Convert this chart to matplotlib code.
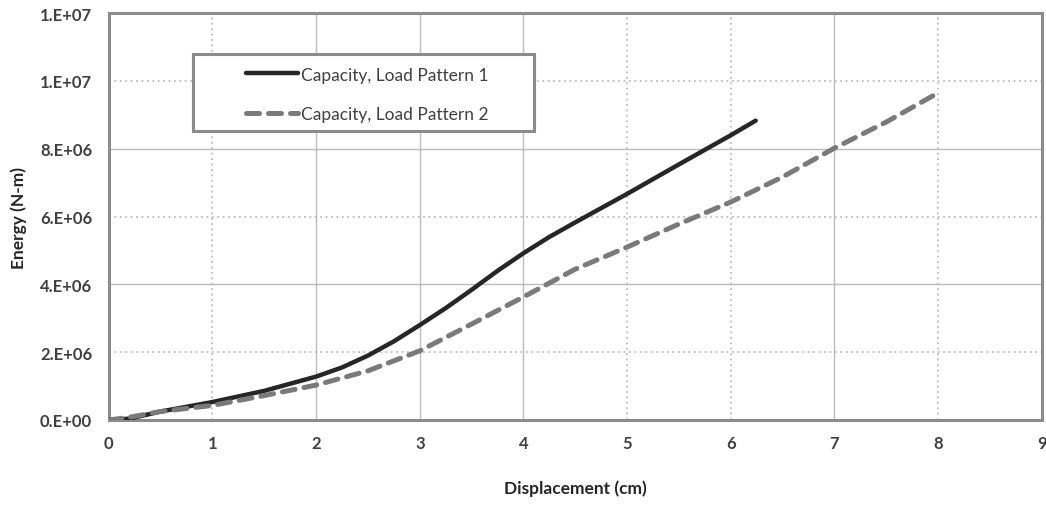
import matplotlib
matplotlib.use("Agg")
import matplotlib.pyplot as plt
from matplotlib.patches import Rectangle

plt.rcParams['font.family'] = ['Lato', 'DejaVu Sans']

# Capacity curves: displacement (cm) vs. absorbed energy (N-m)
disp_lp1 = [0.0, 0.2, 0.5, 1.0, 1.5, 2.0, 2.25, 2.5, 2.75, 3.0, 3.25, 3.5, 3.75,
            4.0, 4.25, 4.5, 5.0, 5.5, 6.0, 6.24]
energy_lp1 = [0.0, 0.04e6, 0.25e6, 0.53e6, 0.86e6, 1.28e6, 1.55e6, 1.90e6, 2.32e6,
              2.80e6, 3.30e6, 3.84e6, 4.40e6, 4.92e6, 5.40e6, 5.83e6, 6.67e6,
              7.54e6, 8.40e6, 8.83e6]

disp_lp2 = [0.0, 0.2, 0.5, 1.0, 1.5, 2.0, 2.5, 3.0, 3.5, 4.0, 4.5, 5.0, 5.5, 6.0,
            6.5, 7.0, 7.5, 8.0]
energy_lp2 = [0.0, 0.08e6, 0.25e6, 0.43e6, 0.72e6, 1.03e6, 1.45e6, 2.04e6, 2.83e6,
              3.63e6, 4.45e6, 5.10e6, 5.78e6, 6.43e6, 7.17e6, 8.02e6, 8.79e6, 9.65e6]

series_labels = ["Capacity, Load Pattern 1", "Capacity, Load Pattern 2"]

x_ticks = [0, 1, 2, 3, 4, 5, 6, 7, 8, 9]
y_ticks = [0, 2e6, 4e6, 6e6, 8e6, 1e7, 1.2e7]
y_tick_labels = ["0.E+00", "2.E+06", "4.E+06", "6.E+06", "8.E+06", "1.E+07", "1.E+07"]

# gridlines drawn solid vs dotted
x_solid = [2, 3, 4, 7]
x_dotted = [1, 5, 6, 8]
y_solid = [4e6, 8e6]
y_dotted = [2e6, 6e6, 1e7]

fig = plt.figure(figsize=(10.46, 5.06), dpi=100)
ax = fig.add_axes([0.104, 0.168, 0.892, 0.804])

grid_c = "#bcbcbc"
for xv in x_solid:
    ax.axvline(xv, color=grid_c, lw=1.0, ls='-', zorder=1)
for xv in x_dotted:
    ax.axvline(xv, color=grid_c, lw=1.3, ls=(0, (1, 2)), zorder=1)
for yv in y_solid:
    ax.axhline(yv, color=grid_c, lw=1.0, ls='-', zorder=1)
for yv in y_dotted:
    ax.axhline(yv, color=grid_c, lw=1.3, ls=(0, (1, 2)), zorder=1)

l1, = ax.plot(disp_lp1, energy_lp1, color="#262626", lw=3.2,
              solid_capstyle='round', solid_joinstyle='round', zorder=3)
l2, = ax.plot(disp_lp2, energy_lp2, color="#7a7a7a", lw=3.6,
              ls=(0, (2.6, 1.8)), dash_capstyle='round', zorder=3)

ax.set_xlim(0, 9)
ax.set_ylim(0, 1.2e7)
ax.set_xticks(x_ticks)
ax.set_xticklabels([str(v) for v in x_ticks])
ax.set_yticks(y_ticks)
ax.set_yticklabels(y_tick_labels)
ax.tick_params(length=0, labelsize=12, labelcolor="#404040")
ax.tick_params(axis='x', pad=11)
ax.tick_params(axis='y', pad=12)
for lab in ax.get_xticklabels() + ax.get_yticklabels():
    lab.set_fontweight('bold')

for s in ax.spines.values():
    s.set_color("#8c8c8c")
    s.set_linewidth(2.2)

ax.set_xlabel("Displacement (cm)", fontsize=12.5, fontweight='bold',
              color="#262626", labelpad=20)
ax.set_ylabel("Energy (N-m)", fontsize=12.5, fontweight='bold',
              color="#262626", labelpad=9)

# legend box
ax.add_patch(Rectangle((0.09, 0.711), 0.366, 0.189, transform=ax.transAxes,
                       facecolor='white', edgecolor="#8c8c8c", lw=2.2, zorder=4))
leg = ax.legend([l1, l2], series_labels, loc='upper left',
                bbox_to_anchor=(0.132, 0.903), frameon=False, fontsize=12.5,
                handlelength=3.0, handletextpad=0.2, labelspacing=1.37,
                borderpad=0.3, labelcolor="#404040")
leg.set_zorder(5)

fig.savefig("out.png", dpi=100, facecolor='white')
